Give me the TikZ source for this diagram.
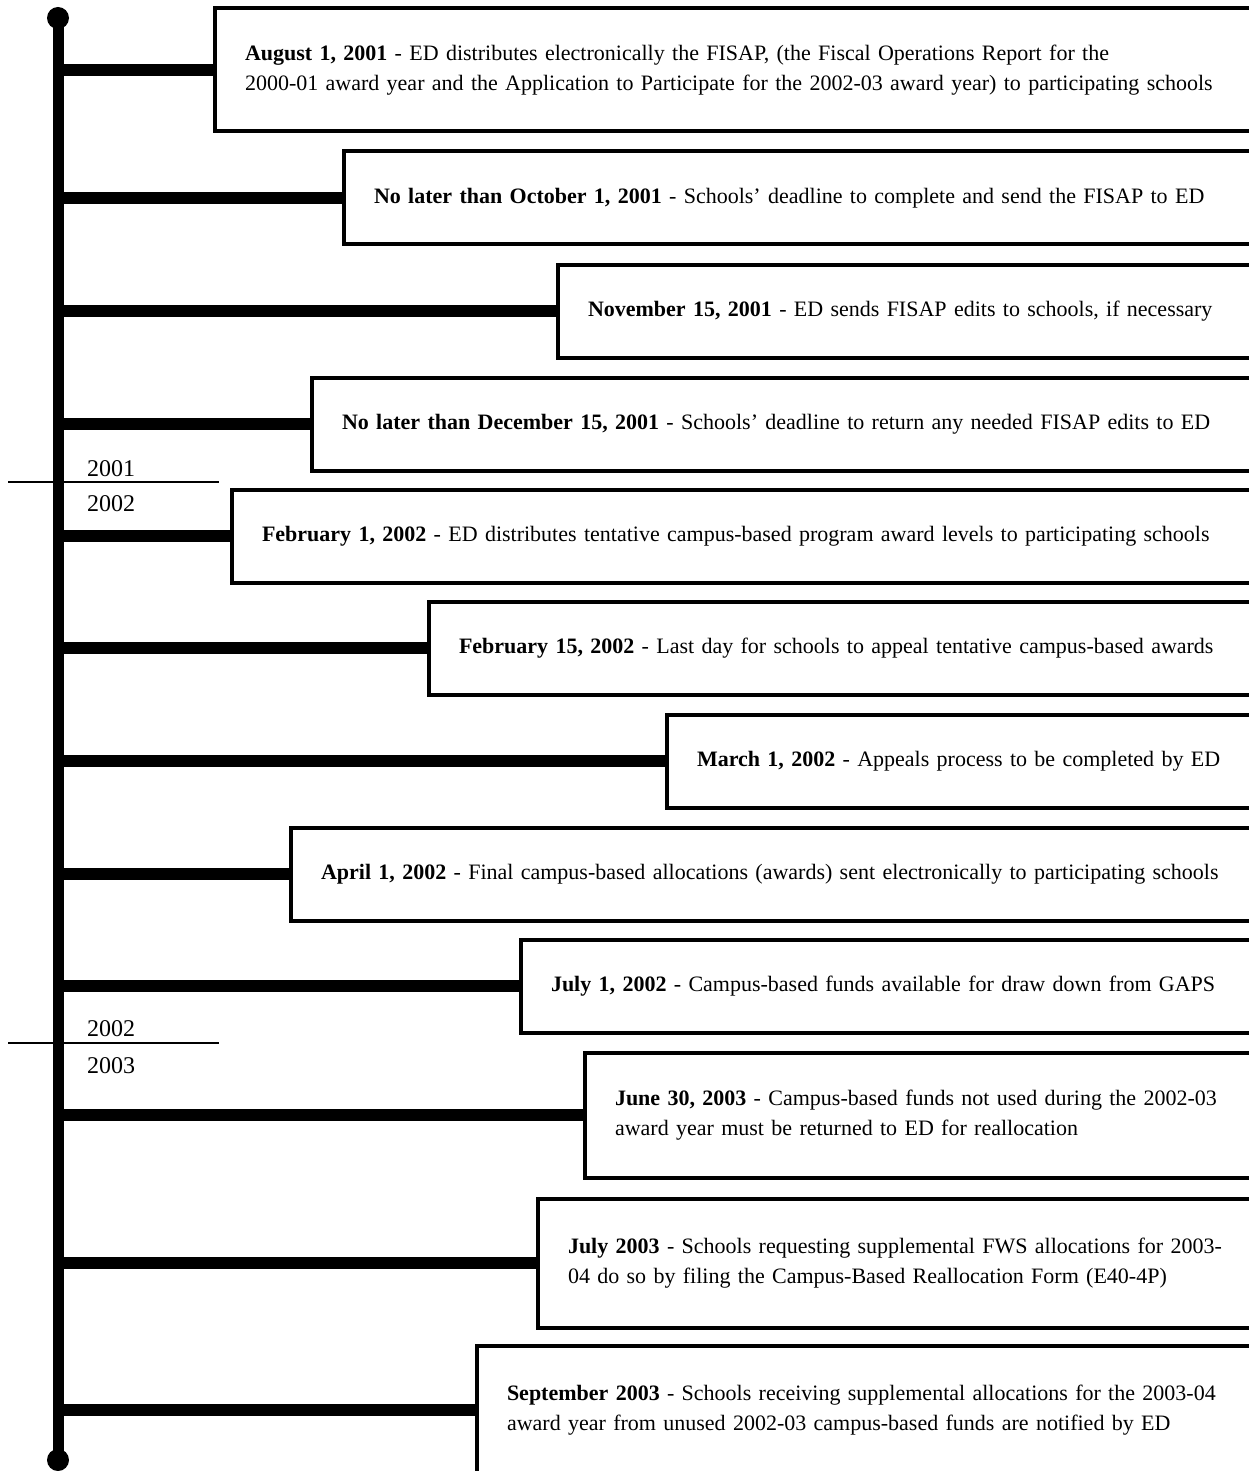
\documentclass[tikz,border=0pt]{standalone}
\usepackage{fontspec}
\setmainfont{Liberation Serif}
\begin{document}
\begin{tikzpicture}[x=1pt,y=-1pt,
  evbox/.style={draw=black, line width=4pt, fill=white, anchor=west, align=left,
    inner xsep=30pt, inner ysep=0pt, font=\fontsize{22}{30}\selectfont},
  conn/.style={line width=12pt, black},
  spine/.style={line width=11pt, black},
  yr/.style={font=\fontsize{24}{26}\selectfont, inner sep=0pt, anchor=base west},
  divider/.style={line width=2pt, black}]
\useasboundingbox (0,0) rectangle (1249,1471);
\clip (0,0) rectangle (1249,1471);
\fill[white] (0,0) rectangle (1249,1471);
\coordinate (st) at (58,18);
\coordinate (sb) at (58,1460);
\draw[spine] (st) -- (sb);
\fill (st) circle (11);
\fill (sb) circle (11);
% boxes
\node[evbox, minimum height=123pt, text width=1262pt-213pt-60pt] (b1) at (213,70)
 {\textbf{August 1, 2001} - ED distributes electronically the FISAP, (the Fiscal Operations Report for the\\2000-01 award year and the Application to Participate for the 2002-03 award year) to participating schools};
\node[evbox, minimum height=93pt, text width=1262pt-342pt-60pt] (b2) at (342,198)
 {\textbf{No later than October 1, 2001} - Schools’ deadline to complete and send the FISAP to ED};
\node[evbox, minimum height=93pt, text width=1262pt-556pt-60pt] (b3) at (556,311)
 {\textbf{November 15, 2001} - ED sends FISAP edits to schools, if necessary};
\node[evbox, minimum height=93pt, text width=1262pt-310pt-60pt] (b4) at (310,424)
 {\textbf{No later than December 15, 2001} - Schools’ deadline to return any needed FISAP edits to ED};
\node[evbox, minimum height=93pt, text width=1262pt-230pt-60pt] (b5) at (230,536)
 {\textbf{February 1, 2002} - ED distributes tentative campus-based program award levels to participating schools};
\node[evbox, minimum height=93pt, text width=1262pt-427pt-60pt] (b6) at (427,648)
 {\textbf{February 15, 2002} - Last day for schools to appeal tentative campus-based awards};
\node[evbox, minimum height=93pt, text width=1262pt-665pt-60pt] (b7) at (665,761)
 {\textbf{March 1, 2002} - Appeals process to be completed by ED};
\node[evbox, minimum height=93pt, text width=1262pt-289pt-60pt] (b8) at (289,874)
 {\textbf{April 1, 2002} - Final campus-based allocations (awards) sent electronically to participating schools};
\node[evbox, minimum height=93pt, text width=1262pt-519pt-60pt] (b9) at (519,986)
 {\textbf{July 1, 2002} - Campus-based funds available for draw down from GAPS};
\node[evbox, minimum height=125pt, text width=1262pt-583pt-60pt] (b10) at (583,1115)
 {\textbf{June 30, 2003} - Campus-based funds not used during the 2002-03\\award year must be returned to ED for reallocation};
\node[evbox, minimum height=129pt, text width=1262pt-536pt-60pt] (b11) at (536,1263)
 {\textbf{July 2003} - Schools requesting supplemental FWS allocations for 2003-\\04 do so by filing the Campus-Based Reallocation Form (E40-4P)};
\node[evbox, minimum height=128pt, text width=1262pt-475pt-60pt] (b12) at (475,1410)
 {\textbf{September 2003} - Schools receiving supplemental allocations for the 2003-04\\award year from unused 2002-03 campus-based funds are notified by ED};
% connectors
\foreach \b in {b1,b2,b3,b4,b5,b6,b7,b8,b9,b10,b11,b12}
  \draw[conn] (st |- \b.west) -- (\b.west);
% year dividers
\coordinate (d1a) at (8,482); \coordinate (d1b) at (219,482);
\coordinate (d2a) at (8,1043); \coordinate (d2b) at (219,1043);
\draw[divider] (d1a) -- (d1b);
\draw[divider] (d2a) -- (d2b);
\node[yr] (y1) at (87,476) {2001};
\node[yr] (y2) at (87,511) {2002};
\node[yr] (y3) at (87,1036) {2002};
\node[yr] (y4) at (87,1073) {2003};
\end{tikzpicture}
\end{document}
